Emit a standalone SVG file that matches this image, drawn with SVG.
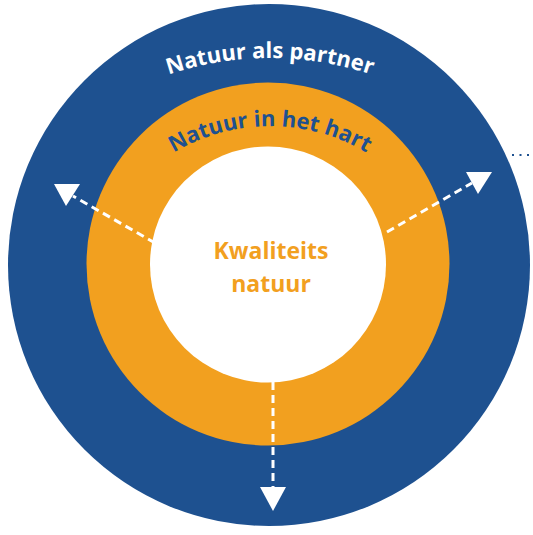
<svg xmlns="http://www.w3.org/2000/svg" xmlns:xlink="http://www.w3.org/1999/xlink" width="533" height="535" viewBox="0 0 533 535">
  <style>
    .lbl { font-family: "Open Sans", "Liberation Sans", sans-serif; font-weight: 700; }
    .conn { fill: none; stroke: #ffffff; stroke-width: 3; stroke-dasharray: 8 5; }
    .head { fill: #ffffff; }
  </style>
  <defs>
    <path id="arcOuter" d="M 64.3 132.9 A 320 320 0 0 1 475.7 132.9"/>
    <path id="arcInner" d="M 126 193.2 A 188 188 0 0 1 414 193.2"/>
  </defs>
  <rect width="533" height="535" fill="#ffffff"/>
  <g id="outer-ring">
    <circle cx="269" cy="265" r="261" fill="#1e5190"/>
    <text class="lbl" font-size="22" fill="#ffffff"><textPath xlink:href="#arcOuter" startOffset="50%" text-anchor="middle">Natuur als partner</textPath></text>
  </g>
  <g id="middle-ring">
    <circle cx="268" cy="264" r="181.5" fill="#f2a01f"/>
    <text class="lbl" font-size="22" fill="#1e5190"><textPath xlink:href="#arcInner" startOffset="50%" text-anchor="middle">Natuur in het hart</textPath></text>
  </g>
  <g id="core">
    <circle cx="268" cy="264.5" r="118" fill="#ffffff"/>
    <text class="lbl" font-size="23" fill="#f2a01f" text-anchor="middle"><tspan x="271" y="259">Kwaliteits</tspan><tspan x="271" y="292">natuur</tspan></text>
  </g>
  <g id="connectors">
    <line class="conn" x1="155" y1="243" x2="73" y2="196"/>
    <polygon class="head" points="54,184 80,184 66,206"/>
    <line class="conn" x1="387" y1="232" x2="472" y2="183"/>
    <polygon class="head" points="466,172 492,172 478,194"/>
    <line class="conn" x1="273" y1="382" x2="273" y2="490"/>
    <polygon class="head" points="260,487 286,487 273,511"/>
  </g>
  <g id="dots">
    <line x1="512" y1="155" x2="533" y2="155" stroke="#1e5190" stroke-width="2" stroke-dasharray="2 5.5"/>
  </g>
</svg>
